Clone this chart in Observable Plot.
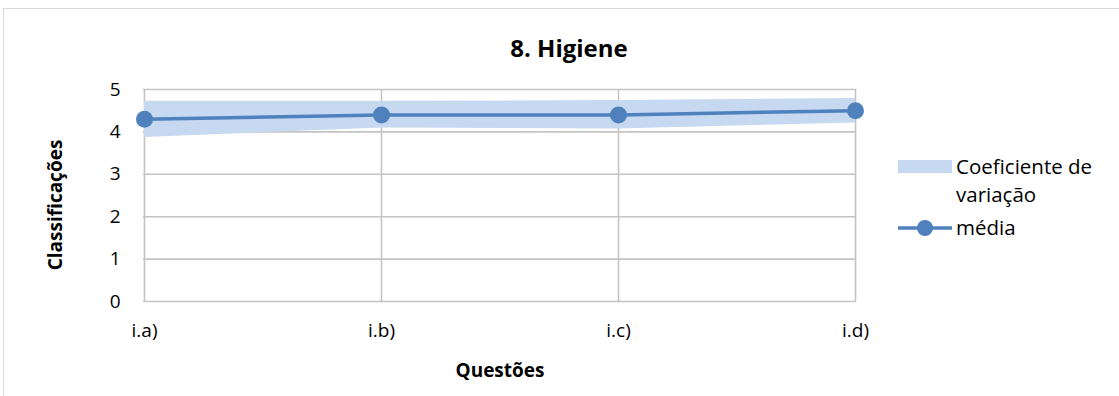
<!DOCTYPE html>
<html>
<head>
<meta charset="utf-8">
<script src="https://cdn.jsdelivr.net/npm/d3@7"></script>
<script src="https://cdn.jsdelivr.net/npm/@observablehq/plot@0.6"></script>
<style>
  html, body { margin: 0; padding: 0; background: #fff; }
  body { width: 1119px; height: 396px; position: relative; overflow: hidden; font-family: "Open Sans", sans-serif; }
  #frame { position: absolute; left: 3px; top: 8px; width: 1200px; height: 500px; border-top: 1px solid #d9d9d9; border-left: 1px solid #d9d9d9; }
  #chart { position: absolute; left: 0; top: 0; }
  #chart svg text { font-family: "Open Sans", sans-serif; fill: #000; }
  #ylabel { position: absolute; left: 55px; top: 205px; transform: translate(-50%, -50%) rotate(-90deg); font-weight: bold; font-size: 19px; white-space: nowrap; color: #000; }
  #legend { position: absolute; left: 898px; top: 152px; font-size: 20.5px; color: #000; line-height: 28px; }
  #legend .row { display: flex; align-items: flex-start; }
  #legend svg { flex: none; margin-right: 4px; }
</style>
</head>
<body>
<div id="frame"></div>
<div id="chart"></div>
<div id="ylabel">Classificações</div>
<div id="legend">
  <div class="row"><svg width="54" height="28"><rect x="0" y="8" width="54" height="13" fill="#c6d9f1"/></svg><div>Coeficiente de<br>variação</div></div>
  <div class="row" style="margin-top:5px"><svg width="54" height="28"><line x1="0" x2="54" y1="15" y2="15" stroke="#4f81bd" stroke-width="3.5"/><circle cx="27" cy="15" r="8" fill="#4f81bd"/></svg><div>média</div></div>
</div>
<script>
const questoes = ["i.a)", "i.b)", "i.c)", "i.d)"];
const media = [4.3, 4.4, 4.4, 4.5];
const cvLow = [3.87, 4.09, 4.07, 4.21];
const cvHigh = [4.72, 4.72, 4.74, 4.79];
const yTicks = [0, 1, 2, 3, 4, 5];

const data = questoes.map((q, i) => ({q, media: media[i], lo: cvLow[i], hi: cvHigh[i]}));

const chart = Plot.plot({
  width: 1119,
  height: 396,
  marginLeft: 143,
  marginRight: 263,
  marginTop: 89,
  marginBottom: 95,
  style: {fontSize: "19px", fontFamily: "'Open Sans', sans-serif"},
  x: {type: "point", domain: questoes, padding: 0},
  y: {domain: [0, 5]},
  marks: [
    Plot.ruleY(yTicks, {stroke: "#c4c4c4", strokeWidth: 1.6}),
    Plot.ruleX(questoes, {stroke: "#c4c4c4", strokeWidth: 1.6}),
    Plot.areaY(data, {x: "q", y1: "lo", y2: "hi", fill: "#c6d9f1", fillOpacity: 1}),
    Plot.lineY(data, {x: "q", y: "media", stroke: "#4f81bd", strokeWidth: 3.5}),
    Plot.dot(data, {x: "q", y: "media", r: 8.5, fill: "#4f81bd"}),
    Plot.axisY(yTicks, {tickSize: 0, tickPadding: 23, label: null, fontSize: 19}),
    Plot.axisX(questoes, {tickSize: 0, tickPadding: 22, label: null, fontSize: 19}),
    Plot.text(["Questões"], {frameAnchor: "bottom", dy: 75, fontWeight: "bold", fontSize: 19}),
    Plot.text(["8. Higiene"], {frameAnchor: "top", dx: 69, dy: -50, fontWeight: "bold", fontSize: 24})
  ]
});
document.getElementById("chart").appendChild(chart);
</script>
</body>
</html>
